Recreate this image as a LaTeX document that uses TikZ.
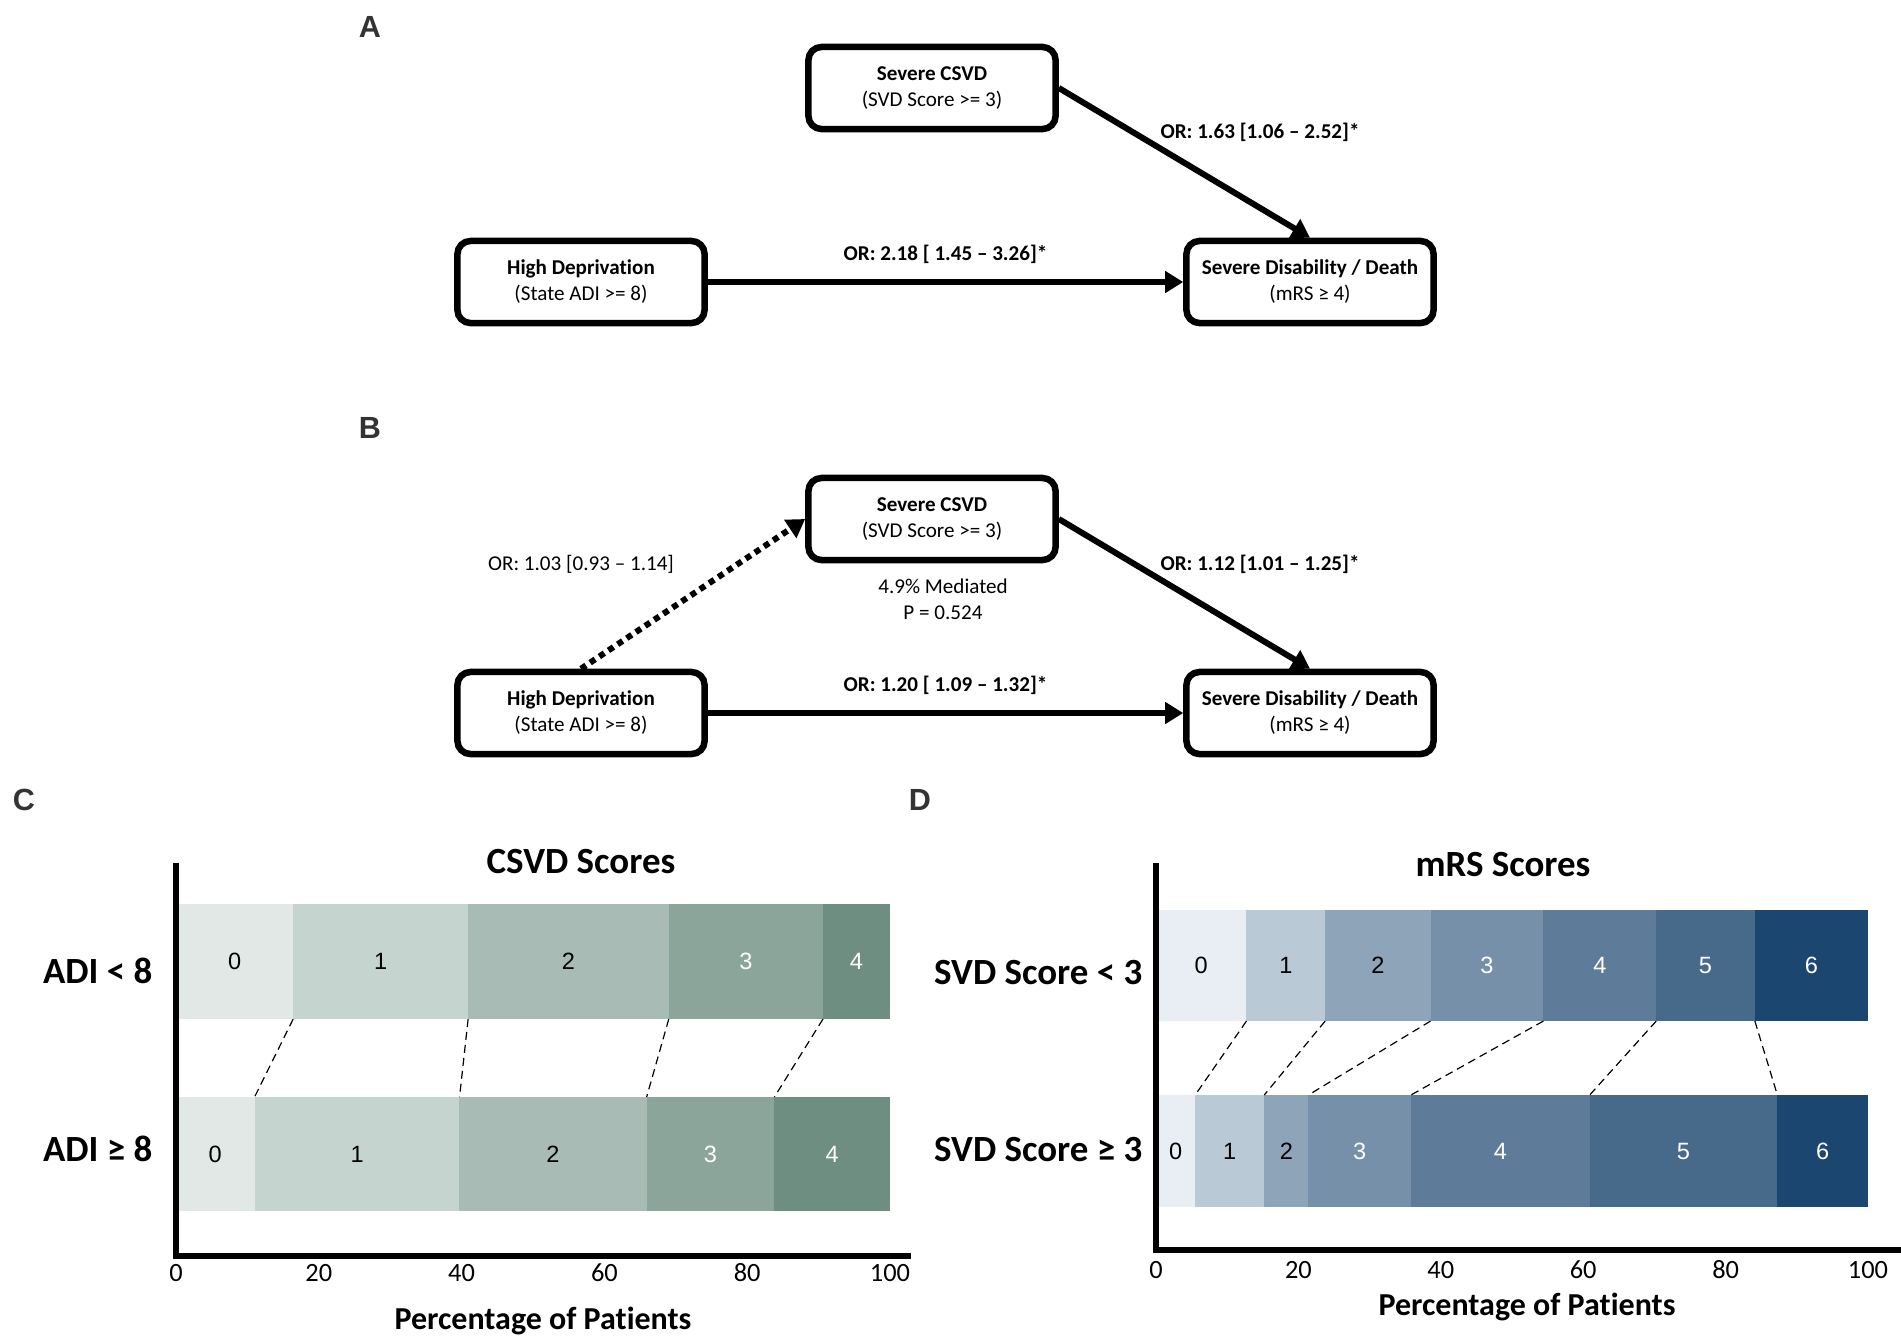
\documentclass[tikz,border=0pt]{standalone}
\usepackage{fontspec}
\setmainfont{Carlito}[Ligatures={TeX,NoCommon}]
\newfontfamily\arialfont{Liberation Sans}
\usetikzlibrary{arrows.meta}

% CSVD greens and mRS blues
\definecolor{gC0}{HTML}{E1E8E5}
\definecolor{gC1}{HTML}{C6D4CF}
\definecolor{gC2}{HTML}{A9BBB5}
\definecolor{gC3}{HTML}{8CA59B}
\definecolor{gC4}{HTML}{6F8E82}
\definecolor{bD0}{HTML}{E8EEF3}
\definecolor{bD1}{HTML}{BAC9D6}
\definecolor{bD2}{HTML}{8EA4B9}
\definecolor{bD3}{HTML}{7690A9}
\definecolor{bD4}{HTML}{5E7C99}
\definecolor{bD5}{HTML}{476A8B}
\definecolor{bD6}{HTML}{1B4670}

\tikzset{
  box/.style={draw, line width=0.065cm, rounded corners=0.13cm, minimum width=2.47cm,
    minimum height=0.82cm, inner sep=0pt, align=center, font=\fontsize{6}{7.4}\selectfont},
  link/.style={line width=0.06cm, -{Triangle[length=0.18cm, width=0.21cm]}},
  orlab/.style={font=\fontsize{6}{7.4}\selectfont\bfseries, inner sep=0pt},
  note/.style={font=\fontsize{6}{7.4}\selectfont, inner sep=0pt, align=center},
  panel/.style={font=\arialfont\bfseries\fontsize{8.7}{10}\selectfont, text=black!80},
  seg/.style={anchor=west, inner sep=0pt, outer sep=0pt, font=\arialfont\fontsize{6.7}{7}\selectfont},
  guide/.style={line width=0.012cm, dash pattern=on 0.08cm off 0.05cm},
  axisln/.style={line width=0.06cm},
  ticklab/.style={font=\fontsize{7.5}{9}\selectfont, inner sep=0pt},
  ttl/.style={font=\fontsize{10.5}{12}\selectfont\bfseries, inner sep=0pt},
  rowlab/.style={font=\fontsize{10.5}{12}\selectfont\bfseries, anchor=east, inner sep=0pt},
  axtitle/.style={font=\fontsize{9.1}{11}\selectfont\bfseries, inner sep=0pt},
}

\begin{document}
\begin{tikzpicture}[x=0.01cm, y=-0.01cm]
  \useasboundingbox (0,0) rectangle (1901,1342);

  % panel letters
  \node[panel] (pA) at (370,27) {A};
  \node[panel] (pB) at (370,428) {B};
  \node[panel] (pC) at (24,800) {C};
  \node[panel] (pD) at (920,800) {D};

  % A: total effect
  \node[box] (csvdA) at (932,88) {\textbf{Severe CSVD}\\(SVD Score >= 3)};
  \node[box] (depA) at (581,282) {\textbf{High Deprivation}\\(State ADI >= 8)};
  \node[box] (disA) at (1310,282) {\textbf{Severe Disability / Death}\\(mRS ≥ 4)};

  \draw[link] (depA) -- node[orlab, midway, above=0.155cm] {OR: 2.18 [ 1.45 – 3.26]*} (disA);
  \draw[link] (csvdA.east) -- (disA.north);
  \node[orlab] (orA2) at (1260,132) {OR: 1.63 [1.06 – 2.52]*};

  % B: mediation
  \node[box] (csvdB) at (932,519) {\textbf{Severe CSVD}\\(SVD Score >= 3)};
  \node[box] (depB) at (581,713) {\textbf{High Deprivation}\\(State ADI >= 8)};
  \node[box] (disB) at (1310,713) {\textbf{Severe Disability / Death}\\(mRS ≥ 4)};

  \draw[link, dash pattern=on 0.06cm off 0.05cm] (depB.north) -- (csvdB.west);
  \draw[link] (csvdB.east) -- (disB.north);
  \draw[link] (depB) -- node[orlab, midway, above=0.155cm] {OR: 1.20 [ 1.09 – 1.32]*} (disB);
  \node[note] (orB1) at (581,564) {OR: 1.03 [0.93 – 1.14]};
  \node[orlab] (orB2) at (1260,564) {OR: 1.12 [1.01 – 1.25]*};
  \node[note] (medB) at (943,599) {4.9\% Mediated\\P = 0.524};

  % C: CSVD scores by ADI
  \foreach \i/\a/\b/\tc in {0/0/16.4/black, 1/16.4/40.9/black, 2/40.9/69.0/black, 3/69.0/90.6/white, 4/90.6/100/white} {
    \pgfmathsetmacro\w{(\b-\a)*0.0714}
    \node[seg, fill=gC\i, text=\tc, minimum width=\w cm, minimum height=1.15cm] (ct\i) at ({176+7.14*\a},961.5) {\i};
  }
  \foreach \i/\a/\b/\tc in {0/0/11.0/black, 1/11.0/39.7/black, 2/39.7/65.9/black, 3/65.9/83.8/white, 4/83.8/100/white} {
    \pgfmathsetmacro\w{(\b-\a)*0.0714}
    \node[seg, fill=gC\i, text=\tc, minimum width=\w cm, minimum height=1.14cm] (cb\i) at ({176+7.14*\a},1154) {\i};
  }
  \foreach \i in {0,...,3}
    \draw[guide] (ct\i.south east) -- (cb\i.north east);

  \draw[axisln] (176,863) -- (176,1256) -- (911,1256);
  \foreach \p in {0,20,...,100}
    \node[ticklab] (ctk\p) at ({176+7.14*\p},1273) {\p};
  \node[ttl] (ctitle) at (581,862) {CSVD Scores};
  \node[rowlab] (crow1) at (153,971) {ADI < 8};
  \node[rowlab] (crow2) at (153,1149) {ADI ≥ 8};
  \node[axtitle] (caxis) at (543,1321) {Percentage of Patients};

  % D: mRS scores by SVD score
  \foreach \i/\a/\b/\tc in {0/0/12.7/black, 1/12.7/23.75/black, 2/23.75/38.55/black, 3/38.55/54.4/white, 4/54.4/70.25/white, 5/70.25/84.1/white, 6/84.1/100/white} {
    \pgfmathsetmacro\w{(\b-\a)*0.0712}
    \node[seg, fill=bD\i, text=\tc, minimum width=\w cm, minimum height=1.11cm] (dt\i) at ({1156+7.12*\a},965.5) {\i};
  }
  \foreach \i/\a/\b/\tc in {0/0/5.5/black, 1/5.5/15.2/black, 2/15.2/21.4/black, 3/21.4/35.8/white, 4/35.8/60.9/white, 5/60.9/87.25/white, 6/87.25/100/white} {
    \pgfmathsetmacro\w{(\b-\a)*0.0712}
    \node[seg, fill=bD\i, text=\tc, minimum width=\w cm, minimum height=1.12cm] (db\i) at ({1156+7.12*\a},1151) {\i};
  }
  \foreach \i in {0,...,5}
    \draw[guide] (dt\i.south east) -- (db\i.north east);

  \draw[axisln] (1156,863) -- (1156,1250) -- (1901,1250);
  \foreach \p in {0,20,...,100}
    \node[ticklab] (dtk\p) at ({1156+7.12*\p},1270) {\p};
  \node[ttl] (dtitle) at (1503,865) {mRS Scores};
  \node[rowlab] (drow1) at (1143,973) {SVD Score < 3};
  \node[rowlab] (drow2) at (1143,1150) {SVD Score ≥ 3};
  \node[axtitle] (daxis) at (1527,1307) {Percentage of Patients};
\end{tikzpicture}
\end{document}
